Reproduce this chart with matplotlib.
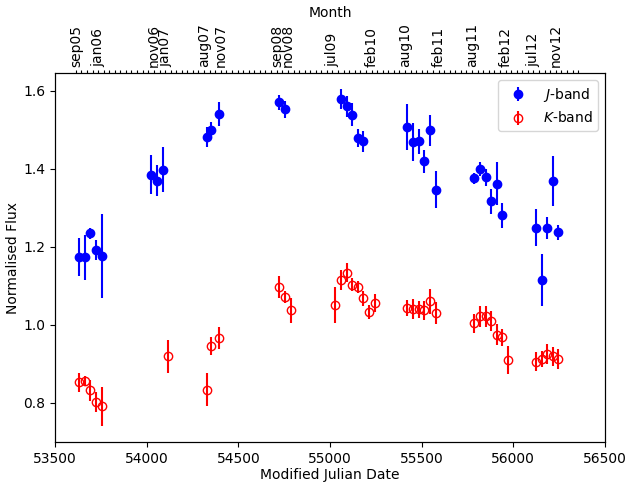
import datetime
import matplotlib
matplotlib.use("Agg")
import matplotlib.pyplot as plt

# J-band data
j_mjd = [53631, 53662, 53693, 53724, 53755,
         54023, 54056, 54089,
         54330, 54351, 54393,
         54723, 54756,
         55058, 55091, 55122, 55151, 55182,
         55422, 55454, 55485, 55514, 55545, 55576,
         55787, 55818, 55849, 55878, 55909, 55940,
         56122, 56155, 56184, 56215, 56245]
j_flux = [1.173, 1.173, 1.235, 1.192, 1.177,
          1.384, 1.369, 1.397,
          1.481, 1.499, 1.540,
          1.570, 1.552,
          1.578, 1.560, 1.538, 1.479, 1.470,
          1.507, 1.468, 1.470, 1.419, 1.498, 1.346,
          1.376, 1.399, 1.378, 1.317, 1.362, 1.281,
          1.249, 1.115, 1.249, 1.369, 1.237]
j_err = [0.049, 0.058, 0.014, 0.026, 0.108,
         0.050, 0.040, 0.058,
         0.026, 0.020, 0.031,
         0.019, 0.021,
         0.025, 0.027, 0.030, 0.023, 0.027,
         0.058, 0.048, 0.032, 0.029, 0.040, 0.047,
         0.014, 0.019, 0.022, 0.032, 0.054, 0.032,
         0.048, 0.066, 0.028, 0.064, 0.019]

# K-band data
k_mjd = [53631, 53662, 53693, 53724, 53755,
         54118,
         54330, 54351, 54393,
         54723, 54756, 54787,
         55029, 55058, 55091, 55122, 55151, 55182, 55213, 55244,
         55422, 55454, 55485, 55514, 55545, 55576,
         55787, 55818, 55849, 55878, 55909, 55940, 55969,
         56122, 56155, 56184, 56215, 56245]
k_flux = [0.853, 0.856, 0.832, 0.803, 0.791,
          0.919,
          0.834, 0.946, 0.966,
          1.097, 1.072, 1.037,
          1.051, 1.115, 1.134, 1.103, 1.097, 1.068, 1.033, 1.055,
          1.043, 1.040, 1.040, 1.037, 1.060, 1.031,
          1.004, 1.022, 1.022, 1.010, 0.975, 0.968, 0.911,
          0.906, 0.912, 0.925, 0.919, 0.912]
k_err = [0.024, 0.012, 0.027, 0.026, 0.049,
         0.042,
         0.042, 0.024, 0.028,
         0.029, 0.015, 0.031,
         0.046, 0.026, 0.024, 0.017, 0.016, 0.019, 0.019, 0.023,
         0.020, 0.026, 0.022, 0.025, 0.031, 0.028,
         0.024, 0.027, 0.027, 0.026, 0.026, 0.021, 0.036,
         0.024, 0.021, 0.026, 0.024, 0.026]

month_labels = ['sep05', 'jan06', 'nov06', 'jan07', 'aug07', 'nov07', 'sep08', 'nov08',
                'jul09', 'feb10', 'aug10', 'feb11', 'aug11', 'feb12', 'jul12', 'nov12']

MONTHS = ['jan', 'feb', 'mar', 'apr', 'may', 'jun', 'jul', 'aug', 'sep', 'oct', 'nov', 'dec']
MJD0 = datetime.date(1858, 11, 17)


def label_to_mjd(lab):
    m = MONTHS.index(lab[:3]) + 1
    y = 2000 + int(lab[3:])
    return (datetime.date(y, m, 1) - MJD0).days


def month_mjds(y0, m0, y1, m1):
    out = []
    y, m = y0, m0
    while (y, m) <= (y1, m1):
        out.append((datetime.date(y, m, 1) - MJD0).days)
        m += 1
        if m > 12:
            m = 1
            y += 1
    return out


fig = plt.figure(figsize=(6.3, 4.83), dpi=100)
ax = fig.add_axes([55 / 630, 41 / 483, 550 / 630, 369 / 483])

ax.errorbar(j_mjd, j_flux, yerr=j_err, fmt='o', color='blue', ms=6,
            elinewidth=1.5, capsize=0, label='$J$-band')
ax.errorbar(k_mjd, k_flux, yerr=k_err, fmt='o', color='red', mfc='none', ms=6,
            mew=1.0, elinewidth=1.5, capsize=0, label='$K$-band')

ax.set_xlim(53500, 56500)
ax.set_ylim(0.7, 1.645)
ax.set_yticks([0.8, 1.0, 1.2, 1.4, 1.6])
ax.set_xlabel('Modified Julian Date', fontsize=10, labelpad=1.5)
ax.set_ylabel('Normalised Flux', fontsize=10, labelpad=2)
ax.tick_params(labelsize=10)
ax.legend(loc='upper right', fontsize=10)

ax2 = ax.twiny()
ax2.set_xlim(ax.get_xlim())
ax2.set_xticks([label_to_mjd(l) for l in month_labels])
ax2.set_xticklabels(month_labels, rotation=90, fontsize=10)
ax2.set_xticks(month_mjds(2005, 9, 2013, 3), minor=True)
ax2.tick_params(axis='x', which='both', length=2.5, width=0.8, pad=2)
ax2.set_xlabel('Month', fontsize=10)

fig.savefig('out.png', dpi=100)
